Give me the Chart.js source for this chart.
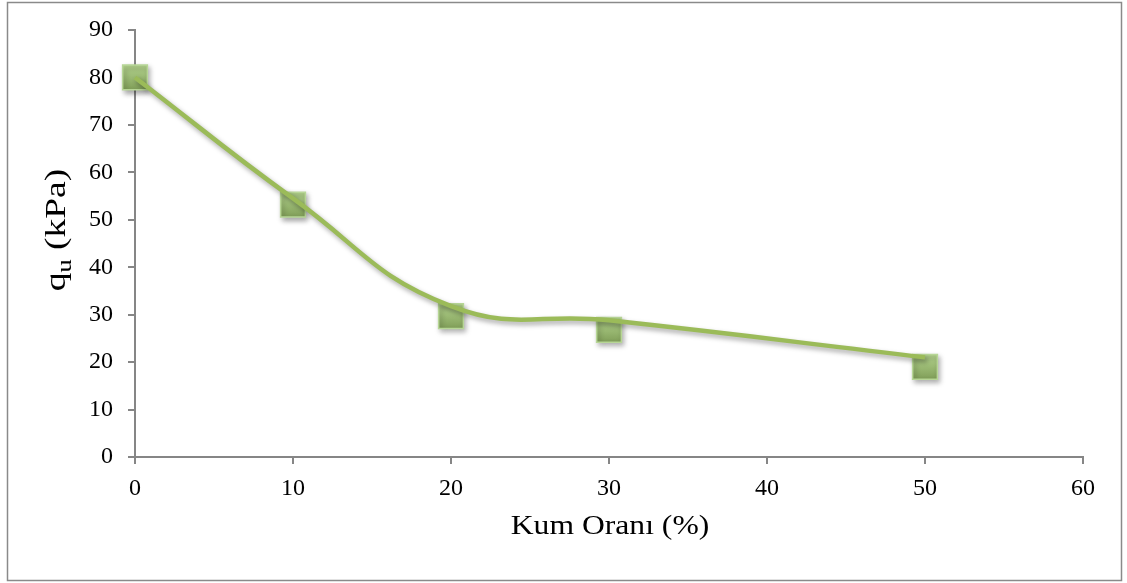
<!DOCTYPE html>
<html>
<head>
<meta charset="utf-8">
<script src="https://cdn.jsdelivr.net/npm/chart.js@4.4.0/dist/chart.umd.min.js"></script>
<style>
html,body{margin:0;padding:0;background:#fff;}
#wrap{width:1127px;height:583px;position:relative;}
</style>
</head>
<body>
<div id="wrap"><canvas id="c" width="1127" height="583"></canvas></div>
<script>
// Data
const kumOrani = [0, 10, 20, 30, 50];          // x: Kum Oranı (%)
const quValues = [80, 53.2, 29.7, 26.8, 19.0]; // markers: qu (kPa)
const curveValues = [80, 54.5, 31.8, 28.8, 21.0]; // smoothed curve as drawn
const xTicks = [0, 10, 20, 30, 40, 50, 60];
const yTicks = [0, 10, 20, 30, 40, 50, 60, 70, 80, 90];
const xTitle = 'Kum Oranı (%)';
const yTitleMain = 'q';
const yTitleSub = 'u';
const yTitleRest = ' (kPa)';

const AXIS = '#868686';
const FONT = "'Liberation Serif', 'Times New Roman', serif";

const markerPts = kumOrani.map((x, i) => ({x: x, y: quValues[i]}));
const curvePts = kumOrani.map((x, i) => ({x: x, y: curveValues[i]}));

function markerFill(ctx) {
  const chart = ctx.chart;
  const ys = chart.scales && chart.scales.y;
  if (!ys || !ctx.parsed || ctx.parsed.y == null) return '#98b86c';
  const py = ys.getPixelForValue(ctx.parsed.y);
  if (!isFinite(py)) return '#98b86c';
  const g = chart.ctx.createLinearGradient(0, py - 13, 0, py + 13);
  g.addColorStop(0, '#b6d690');
  g.addColorStop(1, '#7f9d57');
  return g;
}

const frame = {
  id: 'frame',
  beforeDraw(chart) {
    const c = chart.ctx;
    c.save();
    c.fillStyle = '#fff';
    c.fillRect(0, 0, chart.width, chart.height);
    c.strokeStyle = '#8a8a8a';
    c.lineWidth = 1.5;
    c.strokeRect(7.5, 2.5, 1114, 578);
    c.restore();
  },
  beforeDatasetDraw(chart, args) {
    const c = chart.ctx;
    c.save();
    c.shadowColor = 'rgba(0,0,0,0.35)';
    c.shadowBlur = 5;
    c.shadowOffsetX = 2;
    c.shadowOffsetY = 3;
  },
  afterDatasetDraw(chart) {
    chart.ctx.restore();
  },
  afterDraw(chart) {
    const c = chart.ctx;
    c.save();
    c.fillStyle = '#000';
    c.textAlign = 'center';
    c.textBaseline = 'middle';
    c.font = '28px ' + FONT;
    c.translate(610, 527);
    c.scale(1.13, 1);
    c.fillText(xTitle, 0, 0);
    c.restore();

    c.save();
    c.fillStyle = '#000';
    c.translate(55, 230);
    c.rotate(-Math.PI / 2);
    c.scale(1.25, 1);
    c.textAlign = 'left';
    c.textBaseline = 'alphabetic';
    const big = '30px ' + FONT, small = '21px ' + FONT;
    c.font = big; const w1 = c.measureText(yTitleMain).width;
    c.font = small; const w2 = c.measureText(yTitleSub).width;
    c.font = big; const w3 = c.measureText(yTitleRest).width;
    const total = w1 + w2 + w3;
    let x0 = -total / 2;
    const base = 10;
    c.font = big; c.fillText(yTitleMain, x0, base); x0 += w1;
    c.font = small; c.fillText(yTitleSub, x0, base + 6); x0 += w2;
    c.font = big; c.fillText(yTitleRest, x0, base);
    c.restore();
  }
};

new Chart(document.getElementById('c'), {
  type: 'scatter',
  data: {
    datasets: [
      {
        label: 'curve',
        data: curvePts,
        showLine: true,
        borderColor: '#9bbb59',
        borderWidth: 4.5,
        tension: 0.45,
        pointRadius: 0,
        pointHoverRadius: 0,
        fill: false,
        clip: false,
        order: 0
      },
      {
        label: 'qu',
        data: markerPts,
        showLine: false,
        pointStyle: 'rect',
        pointRadius: 17.5,
        pointHoverRadius: 17.5,
        pointBackgroundColor: markerFill,
        pointBorderColor: '#b7d696',
        pointBorderWidth: 1.5,
        clip: false,
        order: 1
      }
    ]
  },
  options: {
    responsive: false,
    animation: false,
    events: [],
    layout: { padding: { left: 0, right: 44, top: 30, bottom: 0 } },
    plugins: { legend: { display: false }, tooltip: { enabled: false } },
    scales: {
      x: {
        type: 'linear',
        min: 0, max: 60,
        afterBuildTicks(s) { s.ticks = xTicks.map(v => ({value: v})); },
        afterFit(s) { s.height = 126; },
        grid: { display: true, drawOnChartArea: false, drawTicks: true, tickLength: 7, color: AXIS, lineWidth: 2 },
        border: { display: true, color: AXIS, width: 2 },
        ticks: { color: '#000', font: { family: FONT, size: 24 }, padding: 10, maxRotation: 0 }
      },
      y: {
        type: 'linear',
        min: 0, max: 90,
        afterBuildTicks(s) { s.ticks = yTicks.map(v => ({value: v})); },
        afterFit(s) { s.width = 135; },
        grid: { display: true, drawOnChartArea: false, drawTicks: true, tickLength: 7, color: AXIS, lineWidth: 2 },
        border: { display: true, color: AXIS, width: 2 },
        ticks: { color: '#000', font: { family: FONT, size: 24 }, padding: 15 }
      }
    }
  },
  plugins: [frame]
});
</script>
</body>
</html>
